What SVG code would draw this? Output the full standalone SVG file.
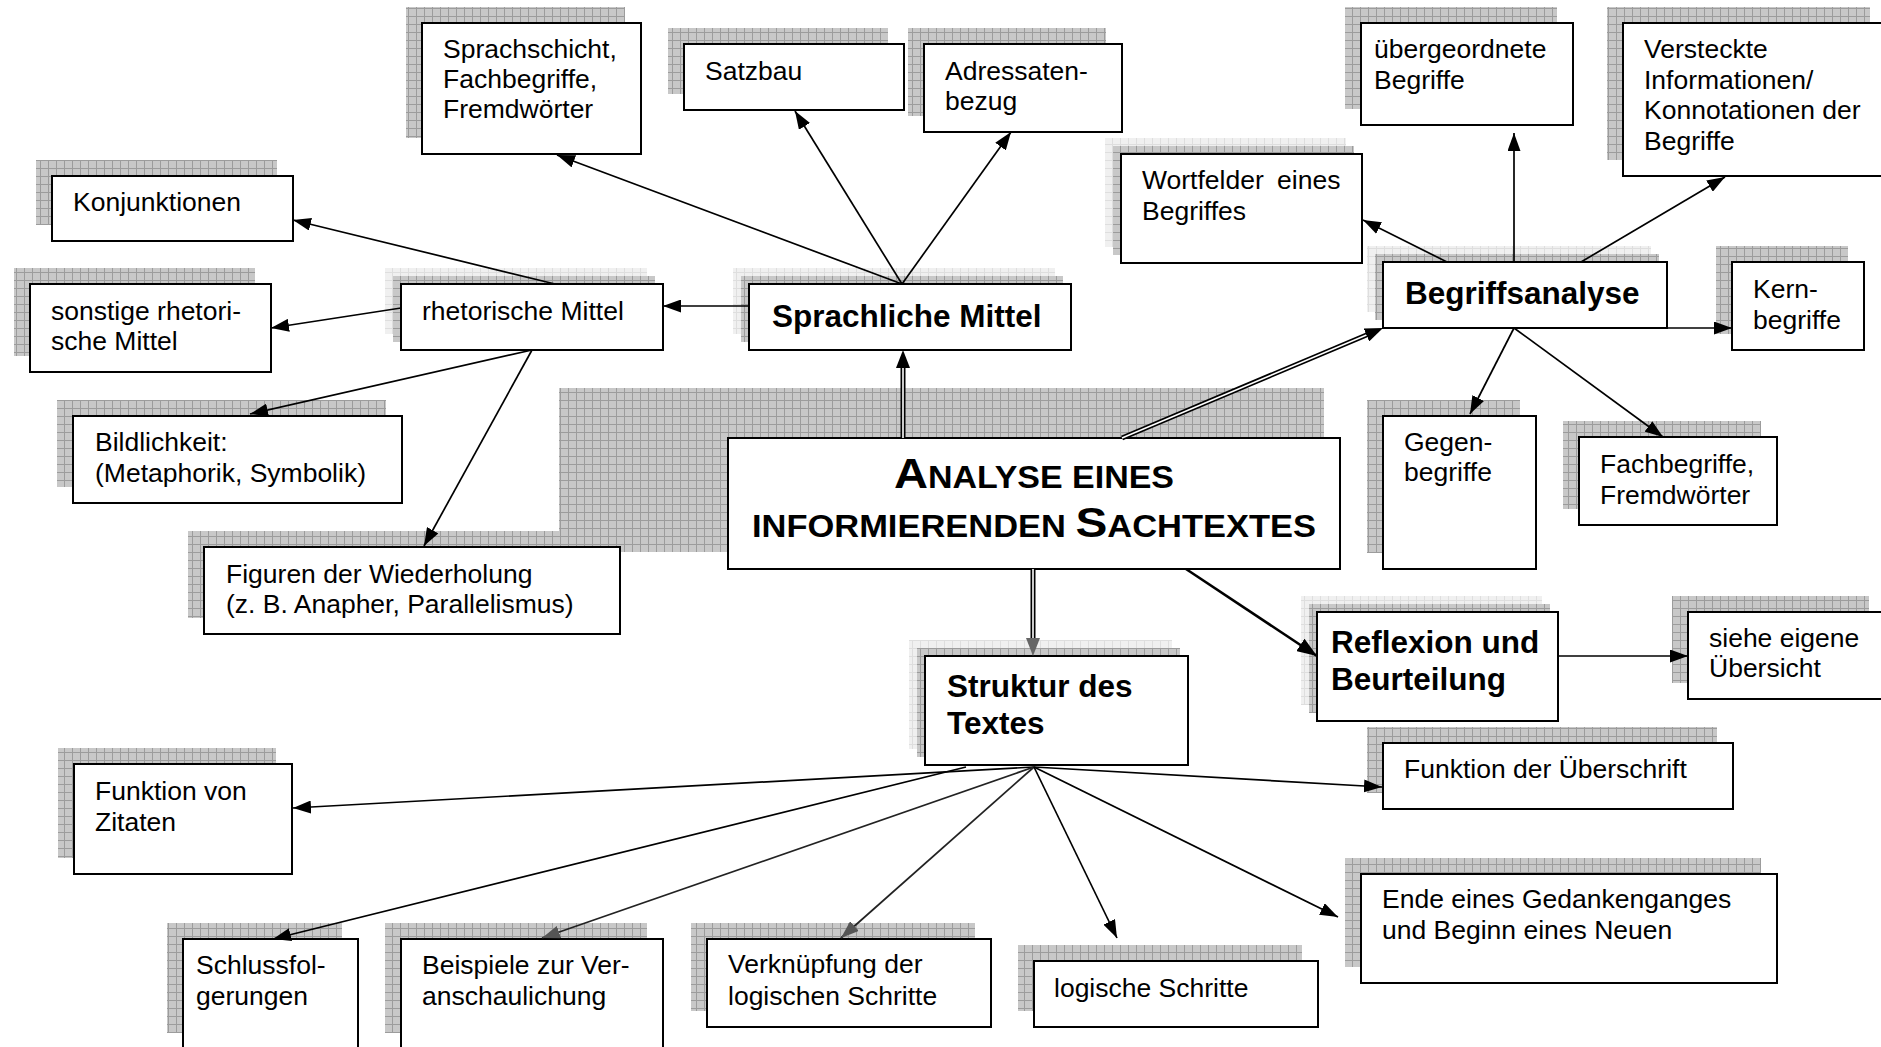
<svg xmlns="http://www.w3.org/2000/svg" width="1881" height="1047" viewBox="0 0 1881 1047">
<defs>
<pattern id="grid" width="8" height="8" patternUnits="userSpaceOnUse"><rect width="8" height="8" fill="#c8c8c8"/><path d="M0 0.5H8M0.5 0V8" stroke="#9c9c9c" stroke-width="1"/></pattern>
<pattern id="gridl" width="8" height="8" patternUnits="userSpaceOnUse"><rect width="8" height="8" fill="#f0f0f0"/><path d="M0 0.5H8M0.5 0V8" stroke="#dedede" stroke-width="1"/></pattern>
<marker id="ah" viewBox="0 0 18 13" markerWidth="18" markerHeight="13" refX="18" refY="6.5" orient="auto" markerUnits="userSpaceOnUse"><path d="M0,0 L18,6.5 L0,13 z" fill="#000"/></marker>
<marker id="ahg" viewBox="0 0 18 13" markerWidth="18" markerHeight="13" refX="18" refY="6.5" orient="auto" markerUnits="userSpaceOnUse"><path d="M0,0 L18,6.5 L0,13 z" fill="#555"/></marker>
<marker id="ahd" viewBox="0 0 18 14" markerWidth="18" markerHeight="14" refX="2" refY="7" orient="auto" markerUnits="userSpaceOnUse"><path d="M0,0 L18,7 L0,14 z" fill="#000"/></marker>
<marker id="ahdg" viewBox="0 0 18 14" markerWidth="18" markerHeight="14" refX="2" refY="7" orient="auto" markerUnits="userSpaceOnUse"><path d="M0,0 L18,7 L0,14 z" fill="#666"/></marker>
<marker id="ahb" viewBox="0 0 20 15" markerWidth="20" markerHeight="15" refX="20" refY="7.5" orient="auto" markerUnits="userSpaceOnUse"><path d="M0,0 L20,7.5 L0,15 z" fill="#000"/></marker>
</defs>
<style>
.sh{fill:url(#grid)}
.shl{fill:url(#gridl)}
.box{fill:#fff;stroke:#000;stroke-width:2}
.t{font-family:"Liberation Sans",Arial,sans-serif;font-size:26.5px;fill:#000}
.b{font-family:"Liberation Sans",Arial,sans-serif;font-size:31.5px;font-weight:bold;fill:#000}
.ttl{font-family:"Liberation Sans",Arial,sans-serif;font-weight:bold;fill:#000}
.c{fill:none;stroke:#000;stroke-width:1.7}
.cg{fill:none;stroke:#222;stroke-width:1.7}
.dbo{fill:none;stroke:#000;stroke-width:5}
.dbi{fill:none;stroke:#fff;stroke-width:1.6}
</style>
<rect width="1881" height="1047" fill="#fff"/>

<g id="main">
<rect class="sh" x="559" y="388" width="765" height="164"/>
<rect class="box" x="728" y="438" width="612" height="131"/>
<text class="ttl" x="1034" y="488" text-anchor="middle" textLength="280" lengthAdjust="spacingAndGlyphs"><tspan font-size="43">A</tspan><tspan font-size="31">NALYSE EINES</tspan></text>
<text class="ttl" x="1034" y="537" text-anchor="middle" textLength="564" lengthAdjust="spacingAndGlyphs"><tspan font-size="31">INFORMIERENDEN </tspan><tspan font-size="43">S</tspan><tspan font-size="31">ACHTEXTES</tspan></text>
</g>

<g id="sprachschicht">
<rect class="sh" x="406" y="7" width="219" height="131"/>
<rect class="box" x="422" y="23" width="219" height="131"/>
<text class="t" x="443" y="58">Sprachschicht,</text>
<text class="t" x="443" y="88">Fachbegriffe,</text>
<text class="t" x="443" y="118">Fremdwörter</text>
</g>

<g id="satzbau">
<rect class="sh" x="668" y="28" width="220" height="66"/>
<rect class="box" x="684" y="44" width="220" height="66"/>
<text class="t" x="705" y="80">Satzbau</text>
</g>

<g id="adressaten">
<rect class="sh" x="908" y="28" width="198" height="88"/>
<rect class="box" x="924" y="44" width="198" height="88"/>
<text class="t" x="945" y="80">Adressaten-</text>
<text class="t" x="945" y="110">bezug</text>
</g>

<g id="konjunktionen">
<rect class="sh" x="36" y="160" width="241" height="65"/>
<rect class="box" x="52" y="176" width="241" height="65"/>
<text class="t" x="73" y="211">Konjunktionen</text>
</g>

<g id="sonstige">
<rect class="sh" x="14" y="268" width="241" height="88"/>
<rect class="box" x="30" y="284" width="241" height="88"/>
<text class="t" x="51" y="320">sonstige rhetori-</text>
<text class="t" x="51" y="350">sche Mittel</text>
</g>

<g id="rhetorische">
<rect class="shl" x="385" y="268" width="262" height="66"/>
<rect class="sh" x="393" y="276" width="262" height="66"/>
<rect class="box" x="401" y="284" width="262" height="66"/>
<text class="t" x="422" y="320">rhetorische Mittel</text>
</g>

<g id="sprachliche">
<rect class="shl" x="733" y="268" width="322" height="66"/>
<rect class="sh" x="741" y="276" width="322" height="66"/>
<rect class="box" x="749" y="284" width="322" height="66"/>
<text class="b" x="772" y="327">Sprachliche Mittel</text>
</g>

<g id="bildlichkeit">
<rect class="sh" x="57" y="400" width="329" height="87"/>
<rect class="box" x="73" y="416" width="329" height="87"/>
<text class="t" x="95" y="451">Bildlichkeit:</text>
<text class="t" x="95" y="482">(Metaphorik, Symbolik)</text>
</g>

<g id="figuren">
<rect class="sh" x="188" y="531" width="416" height="87"/>
<rect class="box" x="204" y="547" width="416" height="87"/>
<text class="t" x="226" y="583">Figuren der Wiederholung</text>
<text class="t" x="226" y="613">(z. B. Anapher, Parallelismus)</text>
</g>

<g id="wortfelder">
<rect class="shl" x="1105" y="138" width="241" height="109"/>
<rect class="sh" x="1113" y="146" width="241" height="109"/>
<rect class="box" x="1121" y="154" width="241" height="109"/>
<text class="t" x="1142" y="189" word-spacing="6">Wortfelder eines</text>
<text class="t" x="1142" y="220">Begriffes</text>
</g>

<g id="uebergeordnete">
<rect class="sh" x="1345" y="7" width="212" height="102"/>
<rect class="box" x="1361" y="23" width="212" height="102"/>
<text class="t" x="1374" y="58">übergeordnete</text>
<text class="t" x="1374" y="89">Begriffe</text>
</g>

<g id="versteckte">
<rect class="sh" x="1607" y="7" width="263" height="153"/>
<rect class="box" x="1623" y="23" width="263" height="153"/>
<text class="t" x="1644" y="58">Versteckte</text>
<text class="t" x="1644" y="89">Informationen/</text>
<text class="t" x="1644" y="119">Konnotationen der</text>
<text class="t" x="1644" y="150">Begriffe</text>
</g>

<g id="begriffsanalyse">
<rect class="shl" x="1367" y="246" width="284" height="66"/>
<rect class="sh" x="1375" y="254" width="284" height="66"/>
<rect class="box" x="1383" y="262" width="284" height="66"/>
<text class="b" x="1405" y="304">Begriffsanalyse</text>
</g>

<g id="kernbegriffe">
<rect class="sh" x="1716" y="246" width="132" height="88"/>
<rect class="box" x="1732" y="262" width="132" height="88"/>
<text class="t" x="1753" y="298">Kern-</text>
<text class="t" x="1753" y="329">begriffe</text>
</g>

<g id="gegenbegriffe">
<rect class="sh" x="1367" y="400" width="153" height="153"/>
<rect class="box" x="1383" y="416" width="153" height="153"/>
<text class="t" x="1404" y="451">Gegen-</text>
<text class="t" x="1404" y="481">begriffe</text>
</g>

<g id="fachbegriffe">
<rect class="sh" x="1563" y="421" width="198" height="88"/>
<rect class="box" x="1579" y="437" width="198" height="88"/>
<text class="t" x="1600" y="473">Fachbegriffe,</text>
<text class="t" x="1600" y="504">Fremdwörter</text>
</g>

<g id="reflexion">
<rect class="shl" x="1301" y="596" width="241" height="109"/>
<rect class="sh" x="1309" y="604" width="241" height="109"/>
<rect class="box" x="1317" y="612" width="241" height="109"/>
<text class="b" x="1331" y="653">Reflexion und</text>
<text class="b" x="1331" y="690">Beurteilung</text>
</g>

<g id="siehe">
<rect class="sh" x="1672" y="596" width="197" height="87"/>
<rect class="box" x="1688" y="612" width="197" height="87"/>
<text class="t" x="1709" y="647">siehe eigene</text>
<text class="t" x="1709" y="677">Übersicht</text>
</g>

<g id="struktur">
<rect class="shl" x="909" y="640" width="263" height="109"/>
<rect class="sh" x="917" y="648" width="263" height="109"/>
<rect class="box" x="925" y="656" width="263" height="109"/>
<text class="b" x="947" y="697">Struktur des</text>
<text class="b" x="947" y="734">Textes</text>
</g>

<g id="ueberschrift">
<rect class="sh" x="1367" y="727" width="350" height="66"/>
<rect class="box" x="1383" y="743" width="350" height="66"/>
<text class="t" x="1404" y="778">Funktion der Überschrift</text>
</g>

<g id="zitaten">
<rect class="sh" x="58" y="748" width="218" height="110"/>
<rect class="box" x="74" y="764" width="218" height="110"/>
<text class="t" x="95" y="800">Funktion von</text>
<text class="t" x="95" y="831">Zitaten</text>
</g>

<g id="schlussfolgerungen">
<rect class="sh" x="167" y="923" width="175" height="110"/>
<rect class="box" x="183" y="939" width="175" height="112"/>
<text class="t" x="196" y="974">Schlussfol-</text>
<text class="t" x="196" y="1005">gerungen</text>
</g>

<g id="beispiele">
<rect class="sh" x="385" y="923" width="262" height="110"/>
<rect class="box" x="401" y="939" width="262" height="112"/>
<text class="t" x="422" y="974">Beispiele zur Ver-</text>
<text class="t" x="422" y="1005">anschaulichung</text>
</g>

<g id="verknuepfung">
<rect class="sh" x="691" y="923" width="284" height="88"/>
<rect class="box" x="707" y="939" width="284" height="88"/>
<text class="t" x="728" y="973">Verknüpfung der</text>
<text class="t" x="728" y="1005">logischen Schritte</text>
</g>

<g id="logische">
<rect class="sh" x="1018" y="945" width="284" height="66"/>
<rect class="box" x="1034" y="961" width="284" height="66"/>
<text class="t" x="1054" y="997">logische Schritte</text>
</g>

<g id="ende">
<rect class="sh" x="1345" y="858" width="416" height="109"/>
<rect class="box" x="1361" y="874" width="416" height="109"/>
<text class="t" x="1382" y="908">Ende eines Gedankenganges</text>
<text class="t" x="1382" y="939">und Beginn eines Neuen</text>
</g>

<g id="connectors">
<!-- double-line arrows from main -->
<path class="dbo" d="M903,438 L903,366"/><path class="dbi" d="M903,438 L903,368"/><path d="M903,438 L903,366" fill="none" stroke="none" marker-end="url(#ahd)"/>
<path class="dbo" d="M1033,569 L1033,640"/><path class="dbi" d="M1033,569 L1033,638"/><path d="M1033,569 L1033,640" fill="none" stroke="none" marker-end="url(#ahdg)"/>
<path class="dbo" d="M1122,438 L1368.3,334.2"/><path class="dbi" d="M1122,438 L1366.5,335"/><path d="M1122,438 L1368.3,334.2" fill="none" stroke="none" marker-end="url(#ahd)"/>
<path d="M1186,569 L1317,656" fill="none" stroke="#000" stroke-width="2.6" marker-end="url(#ahb)"/>
<!-- Sprachliche Mittel -->
<path class="c" d="M749,306 L663,306" marker-end="url(#ah)"/>
<path class="c" d="M902,284 L557,155" marker-end="url(#ah)"/>
<path class="c" d="M902,284 L795,111" marker-end="url(#ah)"/>
<path class="c" d="M902,284 L1011,132" marker-end="url(#ah)"/>
<!-- rhetorische Mittel -->
<path class="c" d="M555,284 L293,220" marker-end="url(#ah)"/>
<path class="c" d="M401,308 L271,328" marker-end="url(#ah)"/>
<path class="c" d="M532,350 L250,414" marker-end="url(#ah)"/>
<path class="c" d="M532,350 L424,546" marker-end="url(#ah)"/>
<!-- Begriffsanalyse -->
<path class="c" d="M1514,262 L1514,133" marker-end="url(#ah)"/>
<path class="c" d="M1447,262 L1363,220" marker-end="url(#ah)"/>
<path class="c" d="M1581,262 L1725,177" marker-end="url(#ah)"/>
<path class="c" d="M1667,328 L1732,328" marker-end="url(#ah)"/>
<path class="c" d="M1514,328 L1470,414" marker-end="url(#ah)"/>
<path class="c" d="M1514,328 L1663,437" marker-end="url(#ah)"/>
<!-- Reflexion -->
<path class="c" d="M1558,656 L1688,656" marker-end="url(#ah)"/>
<!-- Struktur des Textes -->
<path class="c" d="M1034,767 L293,808" marker-end="url(#ah)"/>
<path class="c" d="M966,767 L273,939" marker-end="url(#ah)"/>
<path class="cg" d="M1034,767 L542,938" marker-end="url(#ahg)"/>
<path class="cg" d="M1034,767 L841,938" marker-end="url(#ahg)"/>
<path class="c" d="M1034,767 L1117,938" marker-end="url(#ah)"/>
<path class="c" d="M1034,767 L1338,917" marker-end="url(#ah)"/>
<path class="c" d="M1034,767 L1382,787" marker-end="url(#ah)"/>
</g>
</svg>
